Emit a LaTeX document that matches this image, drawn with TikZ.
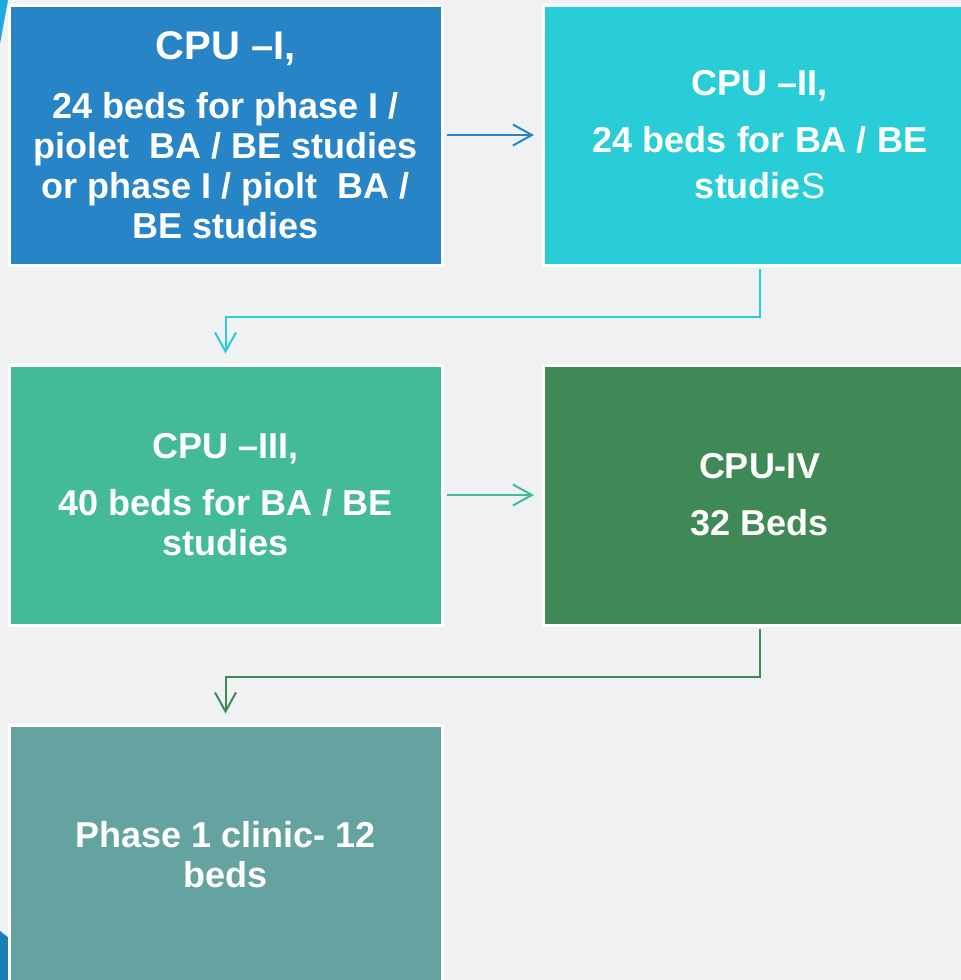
\documentclass[tikz,border=0pt]{standalone}
\usepackage{fontspec}
\setmainfont{Liberation Sans}
\usetikzlibrary{arrows.meta}

\definecolor{bgcol}{HTML}{F0F1F3}
\definecolor{cpuone}{HTML}{2784C7}
\definecolor{cputwo}{HTML}{29CDD7}
\definecolor{cputhree}{HTML}{44BB98}
\definecolor{cpufour}{HTML}{3E8955}
\definecolor{clinic}{HTML}{64A39F}
\definecolor{edgelight}{HTML}{22A8E0}
\definecolor{edgedark}{HTML}{1A80B4}

\begin{document}
\begin{tikzpicture}[x=1pt,y=-1pt,
  unitbox/.style={draw=white, line width=3pt, minimum width=433pt,
    minimum height=260pt, inner sep=0pt, align=center, text=white,
    font=\fontsize{36}{40}\selectfont\bfseries},
  flow/.style={line width=2pt,
    -{Straight Barb[length=19pt,width=21pt,line width=2pt]}}
]
\useasboundingbox (0,0) rectangle (961,980);
\clip (0,0) rectangle (961,980);
\fill[bgcol] (0,0) rectangle (961,980);

% slide edge accents
\fill[edgelight] (0,0) -- (8,0) -- (0,44) -- cycle;
\fill[edgedark] (0,931) -- (9,938) -- (9,990) -- (0,990) -- cycle;

% units
\node[unitbox, fill=cpuone] (u1) at (225.5,135)
  {{\fontsize{40}{44}\selectfont CPU –I,}\\[19pt]
   24 beds for phase I /\\
   piolet~ BA / BE studies\\
   or phase I / piolt~ BA /\\
   BE studies};
\node[unitbox, fill=cputwo] (u2) at (760,135)
  {CPU –II,\\[17pt]
   24 beds for BA / BE\\[6pt]
   studie{\mdseries S}};
\node[unitbox, fill=cputhree] (u3) at (225.5,495)
  {CPU –III,\\[17pt]
   40 beds for BA / BE\\
   studies};
\node[unitbox, fill=cpufour] (u4) at (760,495)
  {CPU-IV\\[17pt]
   32 Beds};
\node[unitbox, fill=clinic] (u5) at (225.5,855)
  {Phase 1 clinic- 12\\
   beds};

% connectors
\draw[flow, cpuone, shorten <=3pt, shorten >=8pt] (u1.east) -- (u1.east -| u2.west);
\draw[flow, cputhree, shorten <=3pt, shorten >=8pt] (u3.east) -- (u3.east -| u4.west);
\draw[flow, cputwo, shorten <=2pt, shorten >=10pt]
  (u2.south) -- ++(0,50) -| (u3.north);
\draw[flow, cpufour, shorten <=2pt, shorten >=10pt]
  (u4.south) -- ++(0,50) -| (u5.north);
\end{tikzpicture}
\end{document}
